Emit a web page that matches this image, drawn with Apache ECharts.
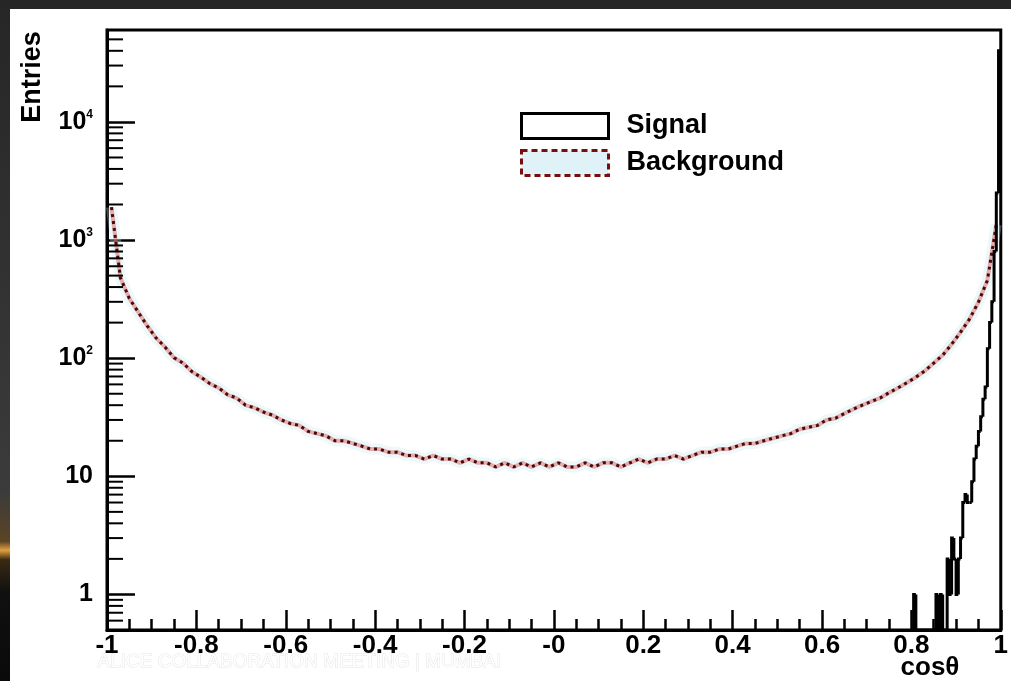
<!DOCTYPE html>
<html>
<head>
<meta charset="utf-8">
<script src="https://cdn.jsdelivr.net/npm/echarts@6/dist/echarts.min.js"></script>
<style>
  html, body { margin: 0; padding: 0; background: #262626; }
  #chart { width: 1011px; height: 681px; }
</style>
</head>
<body>
<div id="chart"></div>
<script>
// ---- data -------------------------------------------------------------
// Background: 100 bins of width 0.02 covering cos(theta) from -1 to 1
const bgBinLow = -1;
const bgBinWidth = 0.02;
const backgroundCounts = [
  1900, 480, 320, 245, 188, 148, 124, 101, 91, 77,
  69, 61, 56, 49, 46, 40, 38, 35, 33, 30,
  28, 27, 24, 23, 22, 20, 20, 19, 18, 17,
  17, 16, 16, 15, 15, 14, 15, 14, 14, 13,
  14, 13, 13, 12, 13, 12, 13, 12, 13, 12,
  13, 12, 12, 13, 12, 13, 13, 12, 13, 14,
  13, 14, 14, 15, 14, 15, 16, 16, 17, 17,
  18, 19, 19, 20, 21, 22, 23, 25, 26, 27,
  30, 31, 34, 37, 40, 43, 46, 51, 56, 62,
  69, 78, 91, 106, 131, 166, 214, 298, 455, 1350
];

// Signal: 40 bins of width 0.005 covering cos(theta) from 0.8 to 1
const sigBinLow = 0.8;
const sigBinWidth = 0.005;
const signalCounts = [
  0, 1, 0, 0, 0, 0, 0, 0, 0, 0,
  0, 1, 0, 1, 0, 0, 2, 1, 3, 2,
  1, 2, 3, 6, 7, 6, 6, 9, 14, 18,
  24, 32, 45, 57, 120, 200, 300, 800, 2500, 40000
];

// axis tick labels
const xTickLabels = ['-1', '-0.8', '-0.6', '-0.4', '-0.2', '-0', '0.2', '0.4', '0.6', '0.8', '1'];
const yTickValues = [1, 10, 100, 1000, 10000];
const yTickLabels = ['1', '10', '10^2', '10^3', '10^4'];
const yMinorTickValues = [
  0.6, 0.7, 0.8, 0.9,
  2, 3, 4, 5, 6, 7, 8, 9,
  20, 30, 40, 50, 60, 70, 80, 90,
  200, 300, 400, 500, 600, 700, 800, 900,
  2000, 3000, 4000, 5000, 6000, 7000, 8000, 9000,
  20000, 30000, 40000, 50000
];

// ---- helpers ----------------------------------------------------------
const X_MIN = -1, X_MAX = 1;
const Y_MIN = 0.5, Y_MAX = 60000;
const FONT = '"Liberation Sans", Arial, Helvetica, sans-serif';

// background drawn through the bin centres
const bgPoints = backgroundCounts.map((c, i) => [+(bgBinLow + (i + 0.5) * bgBinWidth).toFixed(4), c]);

// signal bins as [left, right, count, previous count] for an outline histogram
const sigBins = signalCounts.map((c, i) => [
  +(sigBinLow + i * sigBinWidth).toFixed(4),
  +(sigBinLow + (i + 1) * sigBinWidth).toFixed(4),
  c,
  i === 0 ? 0 : signalCounts[i - 1]
]);

function renderSignalBin(params, api) {
  const x0 = api.value(0), x1 = api.value(1);
  const v = Math.max(api.value(2), Y_MIN);
  const vPrev = Math.max(api.value(3), Y_MIN);
  const p0 = api.coord([x0, vPrev]);
  const p1 = api.coord([x0, v]);
  const p2 = api.coord([x1, v]);
  return {
    type: 'polyline',
    shape: { points: [p0, p1, p2] },
    style: { stroke: '#000', lineWidth: 3, fill: null, lineJoin: 'miter' }
  };
}

function renderMinorYTick(params, api) {
  const y = api.coord([X_MIN, api.value(0)])[1];
  const x = params.coordSys.x;
  return {
    type: 'line',
    shape: { x1: x, y1: y, x2: x + 16, y2: y },
    style: { stroke: '#000', lineWidth: 2 }
  };
}

function yLabel(val) {
  for (let i = 0; i < yTickValues.length; i++) {
    if (Math.abs(val - yTickValues[i]) / yTickValues[i] < 1e-6) {
      const parts = yTickLabels[i].split('^');
      return parts.length > 1 ? '{b|' + parts[0] + '}{s|' + parts[1] + '}' : '{b|' + parts[0] + '}';
    }
  }
  return '';
}

function xLabel(val) {
  const idx = Math.round((val - X_MIN) / 0.2);
  return Math.abs(X_MIN + idx * 0.2 - val) < 1e-6 ? xTickLabels[idx] : '';
}

// ---- chart ------------------------------------------------------------
const chart = echarts.init(document.getElementById('chart'), null, { renderer: 'canvas' });

chart.setOption({
  backgroundColor: '#ffffff',
  animation: false,
  grid: {
    left: 107, top: 30, right: 6, bottom: 51,
    show: true, borderColor: '#000', borderWidth: 3, backgroundColor: 'transparent'
  },
  legend: {
    orient: 'vertical',
    left: 520, top: 112, padding: 0,
    itemWidth: 87, itemHeight: 25, itemGap: 9,
    selectedMode: false,
    textStyle: { fontFamily: FONT, fontWeight: 'bold', fontSize: 27, color: '#000', padding: [0, 0, 0, 13] },
    data: [
      { name: 'Signal', icon: 'rect', itemStyle: { color: '#ffffff', borderColor: '#000', borderWidth: 3 } },
      { name: 'Background', icon: 'rect', itemStyle: { color: '#def2f7', borderColor: '#7a0c0c', borderWidth: 3, borderType: [6, 4] } }
    ]
  },
  xAxis: {
    type: 'value',
    min: X_MIN, max: X_MAX, interval: 0.2,
    splitLine: { show: false },
    axisLine: { onZero: false, lineStyle: { color: '#000', width: 3 } },
    axisTick: { inside: true, length: 20, lineStyle: { color: '#000', width: 2.5 } },
    minorTick: { show: true, splitNumber: 4, length: 11, lineStyle: { color: '#000', width: 2.5 } },
    axisLabel: {
      formatter: xLabel, margin: 3,
      fontFamily: FONT, fontWeight: 'bold', fontSize: 26, color: '#000',
      showMinLabel: true, showMaxLabel: true
    }
  },
  yAxis: {
    type: 'log', logBase: 10,
    min: Y_MIN, max: Y_MAX,
    splitLine: { show: false },
    axisLine: { onZero: false, lineStyle: { color: '#000', width: 3 } },
    axisTick: { inside: true, length: 28, lineStyle: { color: '#000', width: 2.5 } },
    axisLabel: {
      formatter: yLabel, margin: 14,
      showMinLabel: false, showMaxLabel: false,
      rich: {
        b: { fontFamily: FONT, fontWeight: 'bold', fontSize: 25, color: '#000', lineHeight: 26 },
        s: { fontFamily: FONT, fontWeight: 'bold', fontSize: 12, color: '#000', lineHeight: 12, verticalAlign: 'top' }
      }
    }
  },
  graphic: [
    { type: 'rect', left: 0, top: 0, shape: { width: 1011, height: 9 }, style: { fill: '#262626' }, z: 100 },
    {
      type: 'rect', left: 0, top: 0, shape: { width: 10, height: 681 }, z: 100,
      style: {
        fill: {
          type: 'linear', x: 0, y: 0, x2: 0, y2: 1,
          colorStops: [
            { offset: 0, color: '#262626' },
            { offset: 0.72, color: '#3b3b3b' },
            { offset: 0.795, color: '#5a4424' },
            { offset: 0.808, color: '#e0a040' },
            { offset: 0.822, color: '#3a2a12' },
            { offset: 0.87, color: '#101010' },
            { offset: 1, color: '#0a0a0a' }
          ]
        }
      }
    },
    {
      type: 'text', left: 97, top: 652, z: -1,
      style: { text: 'ALICE COLLABORATION MEETING | MUMBAI', font: '19px ' + FONT, fill: '#ffffff', stroke: '#e6e6e6', lineWidth: 1 }
    },
    {
      type: 'text', x: 33, y: 77, rotation: Math.PI / 2,
      style: { text: 'Entries', font: 'bold 27px ' + FONT, fill: '#000', align: 'center', verticalAlign: 'middle' }
    },
    {
      type: 'text', x: 930, y: 668,
      style: { text: 'cosθ', font: 'bold 26px ' + FONT, fill: '#000', align: 'center', verticalAlign: 'middle' }
    }
  ],
  series: [
    {
      name: 'Background glow',
      type: 'line', symbol: 'none', silent: true, z: 1,
      data: bgPoints,
      lineStyle: { color: 'rgba(195,232,242,0.3)', width: 11 }
    },
    {
      name: 'Background line',
      type: 'line', symbol: 'none', silent: true, z: 2,
      data: bgPoints,
      lineStyle: { color: 'rgba(220,100,100,0.5)', width: 4 }
    },
    {
      name: 'Background',
      type: 'line', symbol: 'none', z: 3,
      data: bgPoints,
      itemStyle: { color: '#7a0c0c' },
      lineStyle: { color: '#4a0808', width: 3, type: [3, 4] }
    },
    {
      name: 'Signal',
      type: 'custom', z: 4, clip: true,
      itemStyle: { color: '#000' },
      encode: { x: [0, 1], y: [2, 3] },
      data: sigBins,
      renderItem: renderSignalBin
    },
    {
      name: 'y minor ticks',
      type: 'custom', silent: true, z: 5,
      encode: { y: 0 },
      data: yMinorTickValues.map(v => [v]),
      renderItem: renderMinorYTick
    }
  ]
});
</script>
</body>
</html>
